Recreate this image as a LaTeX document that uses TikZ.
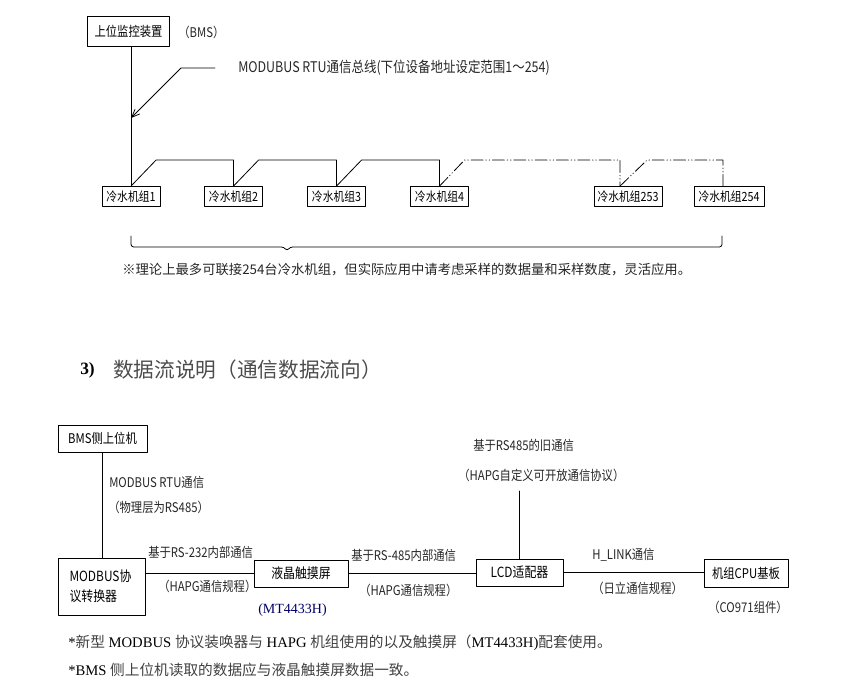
\documentclass[tikz,border=0pt]{standalone}
\usepackage{fontspec}
\usetikzlibrary{arrows.meta}
\setmainfont{Liberation Serif}
\newfontfamily\cjk{Noto Sans CJK SC}
\newfontfamily\cjkn[FakeStretch=0.85]{Noto Sans CJK SC}
\newcommand\zh[1]{{\cjk\color{black!75}#1}}
\begin{document}
\begin{tikzpicture}[x=0.75pt,y=-0.75pt,>={Straight Barb[length=6pt,width=5pt]},line join=round,line cap=round,
	box/.style={draw,line width=0.6pt,inner sep=0pt,font=\cjkn\fontsize{10}{12}\selectfont},
	unit/.style={box,minimum height=15pt,font=\cjkn\fontsize{9.5}{11}\selectfont},
	lbl/.style={inner sep=0pt,anchor=west,text=black!85,font=\cjkn\fontsize{10}{12}\selectfont},
	bus/.style={dash pattern=on 9pt off 2pt on 0.5pt off 2pt on 0.5pt off 2pt}]
		\useasboundingbox (0,0) rectangle (855,698);
		\path 
		(215,68) coordinate (busA)
		(131,118) coordinate (busTip)
		(519.5,491) coordinate (lcdTop);
		% upper part
		\node[box,minimum width=62pt,minimum height=22pt] (bms) at (128.5,31.5) {上位监控装置};
		\node[lbl,font=\cjkn\fontsize{10}{12}\selectfont] (bmsTag) at (178,32) {（BMS）};
		\node[lbl,font=\cjkn\fontsize{11}{13}\selectfont] (busLbl) at (238,68) {MODUBUS RTU通信总线(下位设备地址设定范围1～254)};
		\foreach \n/\x/\w/\k in {u1/131/43.5/1, u2/233.5/43.5/2, u3/336.5/43.5/3, u4/439.5/43.5/4, u5/628/51/253, u6/729/52.5/254}
		\node[unit,minimum width=\w pt] (\n) at (\x,196.5) {冷水机组\k};
		\draw[line width=0.6pt] (u1.north |- bms.south) -- (u1.north);
		\draw[->,line width=0.6pt] (busA) -- ++(-34,0) -- (busTip);
		\foreach \a/\b in {u1/u2, u2/u3, u3/u4}
		\draw[line width=0.6pt] (\a.north) -- ++(25,-26) -| (\b.north);
		\draw[bus,line width=0.6pt] (u4.north) -- ++(25,-26) -| ([xshift=-6pt]u5.north);
		\draw[bus,line width=0.6pt] ([xshift=-6pt]u5.north) -- ++(27,-26) -| ([xshift=-4.5pt]u6.north);
		\draw[line width=0.6pt,rounded corners=2pt] (131,236) |- (284,247) -- (287,251) -- (290,247) -| (722,236);
		\node[lbl,font=\cjk\fontsize{10}{12}\selectfont] (note) at (122,270) {※理论上最多可联接254台冷水机组，但实际应用中请考虑采样的数据量和采样数度，灵活应用。};
		% section 3
		\node[anchor=west,inner sep=0pt,font=\bfseries\fontsize{13}{15}\selectfont] (secNo) at (80,370) {3)};
		\node[anchor=west,inner sep=0pt,text=black!70,font=\cjk\fontsize{15.5}{17}\selectfont] (secTitle) at (113,370) {数据流说明（通信数据流向）};
		\node[box,minimum width=66.75pt,minimum height=20.25pt] (pc) at (102.5,438.5) {BMS侧上位机};
		\node[box,minimum width=65.25pt,minimum height=42.75pt,text width=48pt,align=left,font=\cjkn\fontsize{10.5}{15}\selectfont] (conv) at (101.5,586.5) {MODBUS协\\议转换器};
		\node[box,minimum width=70.5pt,minimum height=20.25pt,font=\cjkn\fontsize{10.5}{12}\selectfont] (scr) at (301,573.5) {液晶触摸屏};
		\node[box,minimum width=65.25pt,minimum height=20.25pt,font=\cjkn\fontsize{10.5}{12}\selectfont] (lcdAd) at (519.5,572.5) {LCD适配器};
		\node[box,minimum width=63pt,minimum height=21pt] (cpu) at (746,573) {机组CPU基板};
		\draw[line width=0.6pt] (pc.south) -- (pc.south |- conv.north);
		\draw[line width=0.6pt] (conv.east |- scr) -- (scr.west);
		\draw[line width=0.6pt] (scr.east) -- (lcdAd.west |- scr);
		\draw[line width=0.6pt] (lcdAd.east) -- (cpu.west |- lcdAd);
		\draw[line width=0.6pt] (lcdTop) -- (lcdAd.north);
		\node[lbl] (l1) at (109,482) {MODBUS RTU通信};
		\node[lbl] (l2) at (108,507) {（物理层为RS485）};
		\node[lbl] (l3) at (148,552) {基于RS-232内部通信};
		\node[lbl] (l4) at (158,586) {（HAPG通信规程）};
		\node[lbl,text=blue!40!black,font=\fontsize{10.5}{12}\selectfont] (l5) at (258,610) {(MT4433H)};
		\node[lbl] (l6) at (351,555) {基于RS-485内部通信};
		\node[lbl] (l7) at (359,590) {（HAPG通信规程）};
		\node[lbl] (l8) at (473,445) {基于RS485的旧通信};
		\node[lbl] (l9) at (458,475) {（HAPG自定义可开放通信协议）};
		\node[lbl] (l10) at (592,555) {H\_LINK通信};
		\node[lbl] (l11) at (592,588) {（日立通信规程）};
		\node[lbl] (l12) at (708,607) {（CO971组件）};
		\node[anchor=west,inner sep=0pt,font=\fontsize{11}{13}\selectfont] (fn1) at (68,643) {*\zh{新型} MODBUS \zh{协议装唤器与} HAPG \zh{机组使用的以及触摸屏（}MT4433H)\zh{配套使用。}};
		\node[anchor=west,inner sep=0pt,font=\fontsize{11}{13}\selectfont] (fn2) at (68,670) {*BMS \zh{侧上位机读取的数据应与液晶触摸屏数据一致。}};
	\end{tikzpicture}
\end{document}
